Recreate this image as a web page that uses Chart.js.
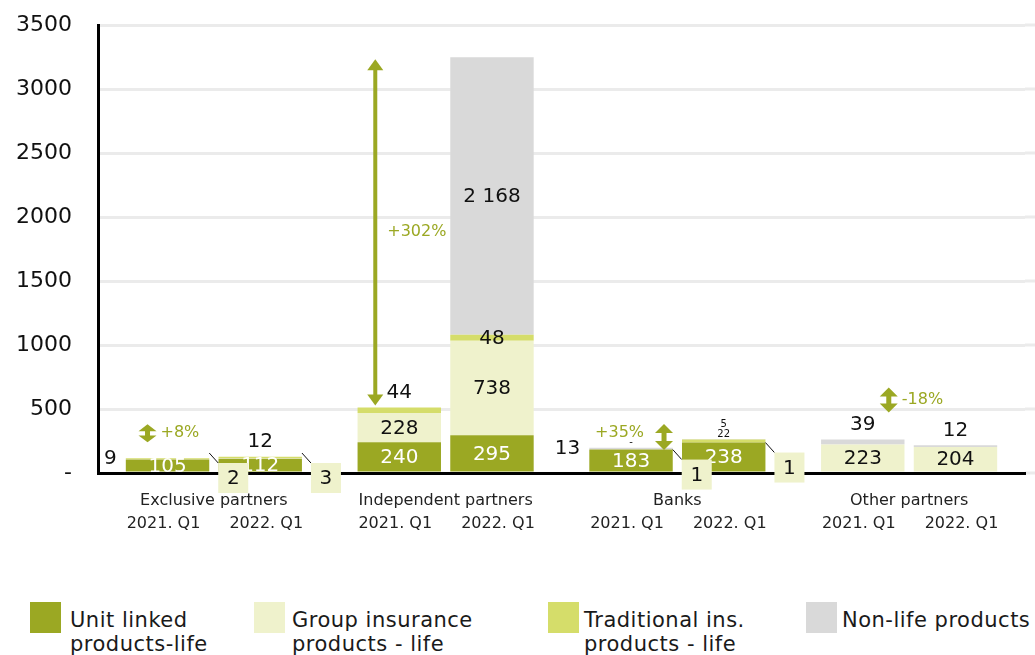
<!DOCTYPE html>
<html lang="en">
<head>
<meta charset="UTF-8">
<title>Sales channels – 2021. Q1 vs 2022. Q1</title>
<style>
  body { margin: 0; background: #fff; font-family: "DejaVu Sans", Arial, sans-serif; }
  #wrap { position: relative; width: 1035px; height: 655px; overflow: hidden; }
  #chart { position: absolute; left: 0; top: 0; }
  .legend-item { position: absolute; top: 602px; }
  .legend-item .box { position: absolute; left: 0; top: 0; width: 31px; height: 31px; }
  .legend-item .txt { position: absolute; top: 6px; white-space: nowrap; font-size: 21px; letter-spacing: 0.5px; line-height: 24px; color: #1a1a1a; }
</style>
</head>
<body>
<div id="wrap">
  <canvas id="chart" width="1035" height="580"></canvas>
  <div id="legend"></div>
</div>

<script src="https://cdn.jsdelivr.net/npm/chart.js@4.4.0/dist/chart.umd.min.js"></script>
<script>
    var FONT = '"DejaVu Sans", Arial, sans-serif';

    // channels and periods
    var categories = ['Exclusive partners', 'Independent partners', 'Banks', 'Other partners'];
    var quarters = ['2021. Q1', '2022. Q1'];

    // values per channel, [2021. Q1, 2022. Q1]
    var unitLinked2021 = [105, 240, 183, 0];
    var unitLinked2022 = [112, 295, 238, 0];
    var groupIns2021   = [2, 228, 1, 223];
    var groupIns2022   = [3, 738, 1, 204];
    var traditional2021 = [9, 44, 0, 0];
    var traditional2022 = [12, 48, 22, 0];
    var nonLife2021    = [0, 0, 13, 39];
    var nonLife2022    = [0, 2168, 5, 12];

    var yTicks = [0, 500, 1000, 1500, 2000, 2500, 3000, 3500];

    var seriesNames = [
        ['Unit linked', 'products-life'],
        ['Group insurance', 'products - life'],
        ['Traditional ins.', 'products - life'],
        ['Non-life products']
    ];
    var seriesColors = ['#9ba823', '#eff2cc', '#d5dd6a', '#d9d9d9'];
    var seriesValues = [
        [unitLinked2021, unitLinked2022],
        [groupIns2021, groupIns2022],
        [traditional2021, traditional2022],
        [nonLife2021, nonLife2022]
    ];

    // where each value label goes: [series][quarter][channel]
    var labelModes = [
        [['in', 'in', 'in', null], ['in', 'in', 'in', null]],
        [['box', 'in', 'box', 'in'], ['box', 'in', 'box', 'in']],
        [['left', 'above', 'small', null], ['above', 'in', 'small', null]],
        [[null, null, 'left', 'above'], [null, 'in', 'small2', 'above']]
    ];

    // change markers
    var changeNotes = [
        { text: '+8%', cat: 0, dx: -20, value: 310, h: 18, side: 'right' },
        { text: '+35%', cat: 2, dx: 33, value: 281, h: 26, side: 'left' },
        { text: '-18%', cat: 3, dx: 26, value: 570, h: 25, side: 'right' }
    ];
    var bigNote = { text: '+302%', cat: 1, dx: -24 };
    var GREEN = '#9ba823';

    function fmt(v) {
        if (v === 0) return '-';
        return String(v).replace(/\B(?=(\d{3})+(?!\d))/g, ' ');
    }

    var datasets = [];
    seriesValues.forEach(function(pair, s) {
        pair.forEach(function(vals, q) {
            datasets.push({
                label: seriesNames[s].join(' '),
                data: vals,
                backgroundColor: seriesColors[s],
                stack: 'q' + q,
                series: s,
                quarter: q,
                borderWidth: 0
            });
        });
    });

    function stackTop(chart, q, j) {
        var top = chart.chartArea.bottom;
        chart.data.datasets.forEach(function(ds, i) {
            if (ds.quarter !== q) return;
            var el = chart.getDatasetMeta(i).data[j];
            if (ds.data[j] > 0) top = Math.min(top, el.y);
        });
        return top;
    }

    function doubleArrow(ctx, x, cy, h) {
        var half = h / 2, tri = Math.min(9, h * 0.38), w = 9;
        ctx.fillStyle = GREEN;
        ctx.beginPath();
        ctx.moveTo(x, cy - half);
        ctx.lineTo(x + w, cy - half + tri);
        ctx.lineTo(x - w, cy - half + tri);
        ctx.closePath();
        ctx.fill();
        ctx.beginPath();
        ctx.moveTo(x, cy + half);
        ctx.lineTo(x + w, cy + half - tri);
        ctx.lineTo(x - w, cy + half - tri);
        ctx.closePath();
        ctx.fill();
        ctx.fillRect(x - 2.5, cy - half + tri - 1, 5, h - 2 * tri + 2);
    }

    var labelsPlugin = {
        id: 'barNotes',
        beforeDraw: function(chart) {
            // horizontal grid runs on to the right edge of the canvas
            var ctx = chart.ctx, y = chart.scales.y, area = chart.chartArea;
            ctx.save();
            ctx.strokeStyle = '#ebebeb';
            ctx.lineWidth = 3;
            yTicks.forEach(function(v) {
                var py = y.getPixelForValue(v);
                ctx.beginPath();
                ctx.moveTo(area.right, py);
                ctx.lineTo(chart.width, py);
                ctx.stroke();
            });
            ctx.restore();
        },
        afterDraw: function(chart) {
            var ctx = chart.ctx, y = chart.scales.y, area = chart.chartArea;
            ctx.save();
            ctx.textBaseline = 'middle';

            // quarter labels under each bar
            ctx.fillStyle = '#222';
            ctx.font = '16px ' + FONT;
            ctx.textAlign = 'center';
            chart.getDatasetMeta(0).data.forEach(function(el) { ctx.fillText(quarters[0], el.x - 4, area.bottom + 51); });
            chart.getDatasetMeta(1).data.forEach(function(el) { ctx.fillText(quarters[1], el.x + 6, area.bottom + 51); });

            // value labels
            chart.data.datasets.forEach(function(ds, i) {
                var meta = chart.getDatasetMeta(i);
                meta.data.forEach(function(el, j) {
                    var mode = labelModes[ds.series][ds.quarter][j];
                    if (!mode) return;
                    var v = ds.data[j], txt = fmt(v);
                    var top = stackTop(chart, ds.quarter, j);
                    var left = el.x - el.width / 2, right = el.x + el.width / 2;
                    ctx.fillStyle = '#111';
                    ctx.font = '20px ' + FONT;
                    if (mode === 'in') {
                        ctx.textAlign = 'center';
                        ctx.fillStyle = ds.series === 0 ? '#fff' : '#111';
                        ctx.fillText(txt, el.x, (el.y + el.base) / 2 + 1);
                    } else if (mode === 'above') {
                        ctx.textAlign = 'center';
                        ctx.fillText(txt, el.x, top - 15);
                    } else if (mode === 'left') {
                        ctx.textAlign = 'right';
                        ctx.fillText(txt, left - 9, top + 1);
                    } else if (mode === 'small' || mode === 'small2') {
                        ctx.textAlign = 'center';
                        ctx.font = '10px ' + FONT;
                        ctx.fillText(txt, el.x, top - (mode === 'small' ? 5 : 15));
                    } else if (mode === 'box') {
                        var ul = chart.getDatasetMeta(ds.quarter).data[j];
                        var bx = right + 9, by = Math.min(ul.y + 10, area.bottom - 10);
                        ctx.strokeStyle = '#111';
                        ctx.lineWidth = 1;
                        ctx.beginPath();
                        ctx.moveTo(right, by - 10);
                        ctx.lineTo(bx, by);
                        ctx.stroke();
                        ctx.fillStyle = seriesColors[1];
                        ctx.fillRect(bx, by, 30, 30);
                        ctx.fillStyle = '#111';
                        ctx.textAlign = 'center';
                        ctx.fillText(txt, bx + 15, by + 16);
                    }
                });
            });

            // change markers
            ctx.font = '16px ' + FONT;
            changeNotes.forEach(function(n) {
                var el = chart.getDatasetMeta(0).data[n.cat];
                var x = el.x + n.dx, cy = y.getPixelForValue(n.value);
                doubleArrow(ctx, x, cy, n.h);
                ctx.fillStyle = GREEN;
                if (n.side === 'right') {
                    ctx.textAlign = 'left';
                    ctx.fillText(n.text, x + 13, cy);
                } else {
                    ctx.textAlign = 'right';
                    ctx.fillText(n.text, x - 20, cy - 4);
                }
            });

            // long arrow between the independent partners totals
            var a = chart.getDatasetMeta(0).data[bigNote.cat];
            var ax = a.x + bigNote.dx;
            var y0 = stackTop(chart, 0, bigNote.cat) - 2, y1 = stackTop(chart, 1, bigNote.cat) + 2;
            ctx.strokeStyle = GREEN;
            ctx.fillStyle = GREEN;
            ctx.lineWidth = 4;
            ctx.beginPath();
            ctx.moveTo(ax, y0 - 10);
            ctx.lineTo(ax, y1 + 10);
            ctx.stroke();
            ctx.beginPath();
            ctx.moveTo(ax, y1); ctx.lineTo(ax + 8, y1 + 11); ctx.lineTo(ax - 8, y1 + 11); ctx.closePath(); ctx.fill();
            ctx.beginPath();
            ctx.moveTo(ax, y0); ctx.lineTo(ax + 8, y0 - 11); ctx.lineTo(ax - 8, y0 - 11); ctx.closePath(); ctx.fill();
            ctx.textAlign = 'left';
            ctx.fillText(bigNote.text, ax + 12, (y0 + y1) / 2);

            ctx.restore();
        }
    };

    new Chart(document.getElementById('chart').getContext('2d'), {
        type: 'bar',
        data: { labels: categories, datasets: datasets },
        options: {
            responsive: false,
            animation: false,
            categoryPercentage: 0.8,
            barPercentage: 0.9,
            layout: { padding: { top: 0, right: 10, left: 0, bottom: 0 } },
            plugins: { legend: { display: false }, tooltip: { enabled: false } },
            scales: {
                x: {
                    stacked: true,
                    grid: { display: false, drawTicks: false },
                    border: { color: '#000', width: 3 },
                    ticks: { color: '#222', font: { size: 16, family: FONT }, padding: 18 },
                    afterFit: function(s) { s.height = 107; }
                },
                y: {
                    stacked: true,
                    min: yTicks[0],
                    max: yTicks[yTicks.length - 1],
                    afterBuildTicks: function(s) { s.ticks = yTicks.map(function(v) { return { value: v }; }); },
                    ticks: {
                        color: '#111',
                        font: { size: 22, family: FONT },
                        padding: 26,
                        callback: function(v) { return v === 0 ? '-' : v; }
                    },
                    grid: { color: '#ebebeb', lineWidth: 3, drawTicks: false },
                    border: { color: '#000', width: 3 },
                    afterFit: function(s) { s.width = 98; s.paddingTop = 25; }
                }
            }
        },
        plugins: [labelsPlugin]
    });

    // legend below the chart
    var legendLeft = [30, 254, 548, 806];
    var legendTextLeft = [40, 38, 36, 36];
    var legend = document.getElementById('legend');
    seriesNames.forEach(function(lines, s) {
        var item = document.createElement('div');
        item.className = 'legend-item';
        item.style.left = legendLeft[s] + 'px';
        item.innerHTML = '<span class="box" style="background:' + seriesColors[s] + '"></span>' +
            '<span class="txt" style="left:' + legendTextLeft[s] + 'px">' + lines.join('<br>') + '</span>';
        legend.appendChild(item);
    });
</script>
</body>
</html>
